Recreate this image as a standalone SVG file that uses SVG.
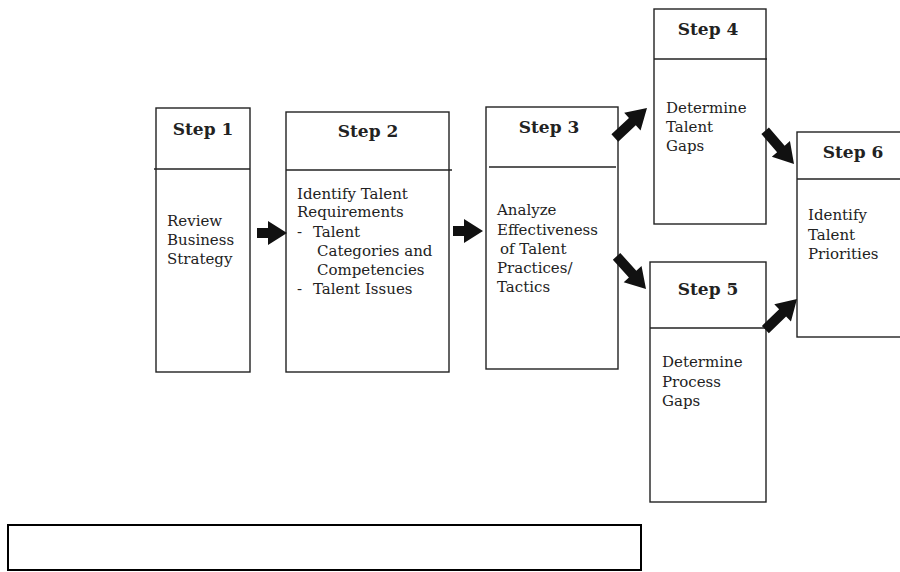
<svg xmlns="http://www.w3.org/2000/svg" xmlns:xlink="http://www.w3.org/1999/xlink" width="900" height="572" viewBox="0 0 900 572">
<style>
.box{fill:#fff;stroke:#222;stroke-width:1.4}
.div{stroke:#222;stroke-width:1.4}
.h{font-family:"DejaVu Serif","Liberation Serif",serif;font-weight:bold;font-size:17px;fill:#222;text-anchor:middle}
.t{font-family:"DejaVu Serif","Liberation Serif",serif;font-size:15px;fill:#222}
.arr{fill:#111}
</style>
<defs>
<polygon id="arrH" points="-30,-5 -19,-5 -19,-12 0,0 -19,12 -19,5 -30,5"/>
<polygon id="arrD" points="-44,-5 -20,-5 -20,-12 0,0 -20,12 -20,5 -44,5"/>
</defs>
<rect width="900" height="572" fill="#fff"/>

<g id="step1">
<rect class="box" x="156" y="108" width="94" height="264"/>
<line class="div" x1="154" y1="169" x2="250" y2="169"/>
<text class="h" x="203" y="135">Step 1</text>
<text class="t"><tspan x="167" y="226">Review</tspan><tspan x="167" y="245">Business</tspan><tspan x="167" y="264">Strategy</tspan></text>
</g>

<g id="step2">
<rect class="box" x="286" y="112" width="163" height="260"/>
<line class="div" x1="286" y1="170" x2="452" y2="170"/>
<text class="h" x="368" y="137">Step 2</text>
<text class="t"><tspan x="297" y="199">Identify Talent</tspan><tspan x="297" y="217">Requirements</tspan><tspan x="297" y="237">-</tspan><tspan x="313" y="237">Talent</tspan><tspan x="317" y="256">Categories and</tspan><tspan x="317" y="275">Competencies</tspan><tspan x="297" y="294">-</tspan><tspan x="313" y="294">Talent Issues</tspan></text>
</g>

<g id="step3">
<rect class="box" x="486" y="107" width="132" height="262"/>
<line class="div" x1="489" y1="167" x2="616" y2="167"/>
<text class="h" x="549" y="133">Step 3</text>
<text class="t"><tspan x="497" y="215">Analyze</tspan><tspan x="497" y="235">Effectiveness</tspan><tspan x="500" y="254">of Talent</tspan><tspan x="497" y="273">Practices/</tspan><tspan x="497" y="292">Tactics</tspan></text>
</g>

<g id="step4">
<rect class="box" x="654" y="9" width="112" height="215"/>
<line class="div" x1="654" y1="59" x2="767" y2="59"/>
<text class="h" x="708" y="35">Step 4</text>
<text class="t"><tspan x="666" y="113">Determine</tspan><tspan x="666" y="132">Talent</tspan><tspan x="666" y="151">Gaps</tspan></text>
</g>

<g id="step5">
<rect class="box" x="650" y="262" width="116" height="240"/>
<line class="div" x1="650" y1="328" x2="766" y2="328"/>
<text class="h" x="708" y="295">Step 5</text>
<text class="t"><tspan x="662" y="367">Determine</tspan><tspan x="662" y="387">Process</tspan><tspan x="662" y="406">Gaps</tspan></text>
</g>

<g id="step6">
<rect class="box" x="797" y="132" width="115" height="205"/>
<line class="div" x1="797" y1="179" x2="900" y2="179"/>
<text class="h" x="853" y="158">Step 6</text>
<text class="t"><tspan x="808" y="220">Identify</tspan><tspan x="808" y="240">Talent</tspan><tspan x="808" y="259">Priorities</tspan></text>
</g>

<g id="note">
<rect x="8" y="525" width="633" height="45" fill="#fff" stroke="#000" stroke-width="2"/>
</g>

<g id="connectors" class="arr">
<use xlink:href="#arrH" href="#arrH" transform="translate(287,233)"/>
<use xlink:href="#arrH" href="#arrH" transform="translate(483,231)"/>
<use xlink:href="#arrD" href="#arrD" transform="translate(647,108) rotate(-43)"/>
<use xlink:href="#arrD" href="#arrD" transform="translate(646,289) rotate(48)"/>
<use xlink:href="#arrD" href="#arrD" transform="translate(794,164) rotate(49)"/>
<use xlink:href="#arrD" href="#arrD" transform="translate(797,299) rotate(-44)"/>
</g>
</svg>
